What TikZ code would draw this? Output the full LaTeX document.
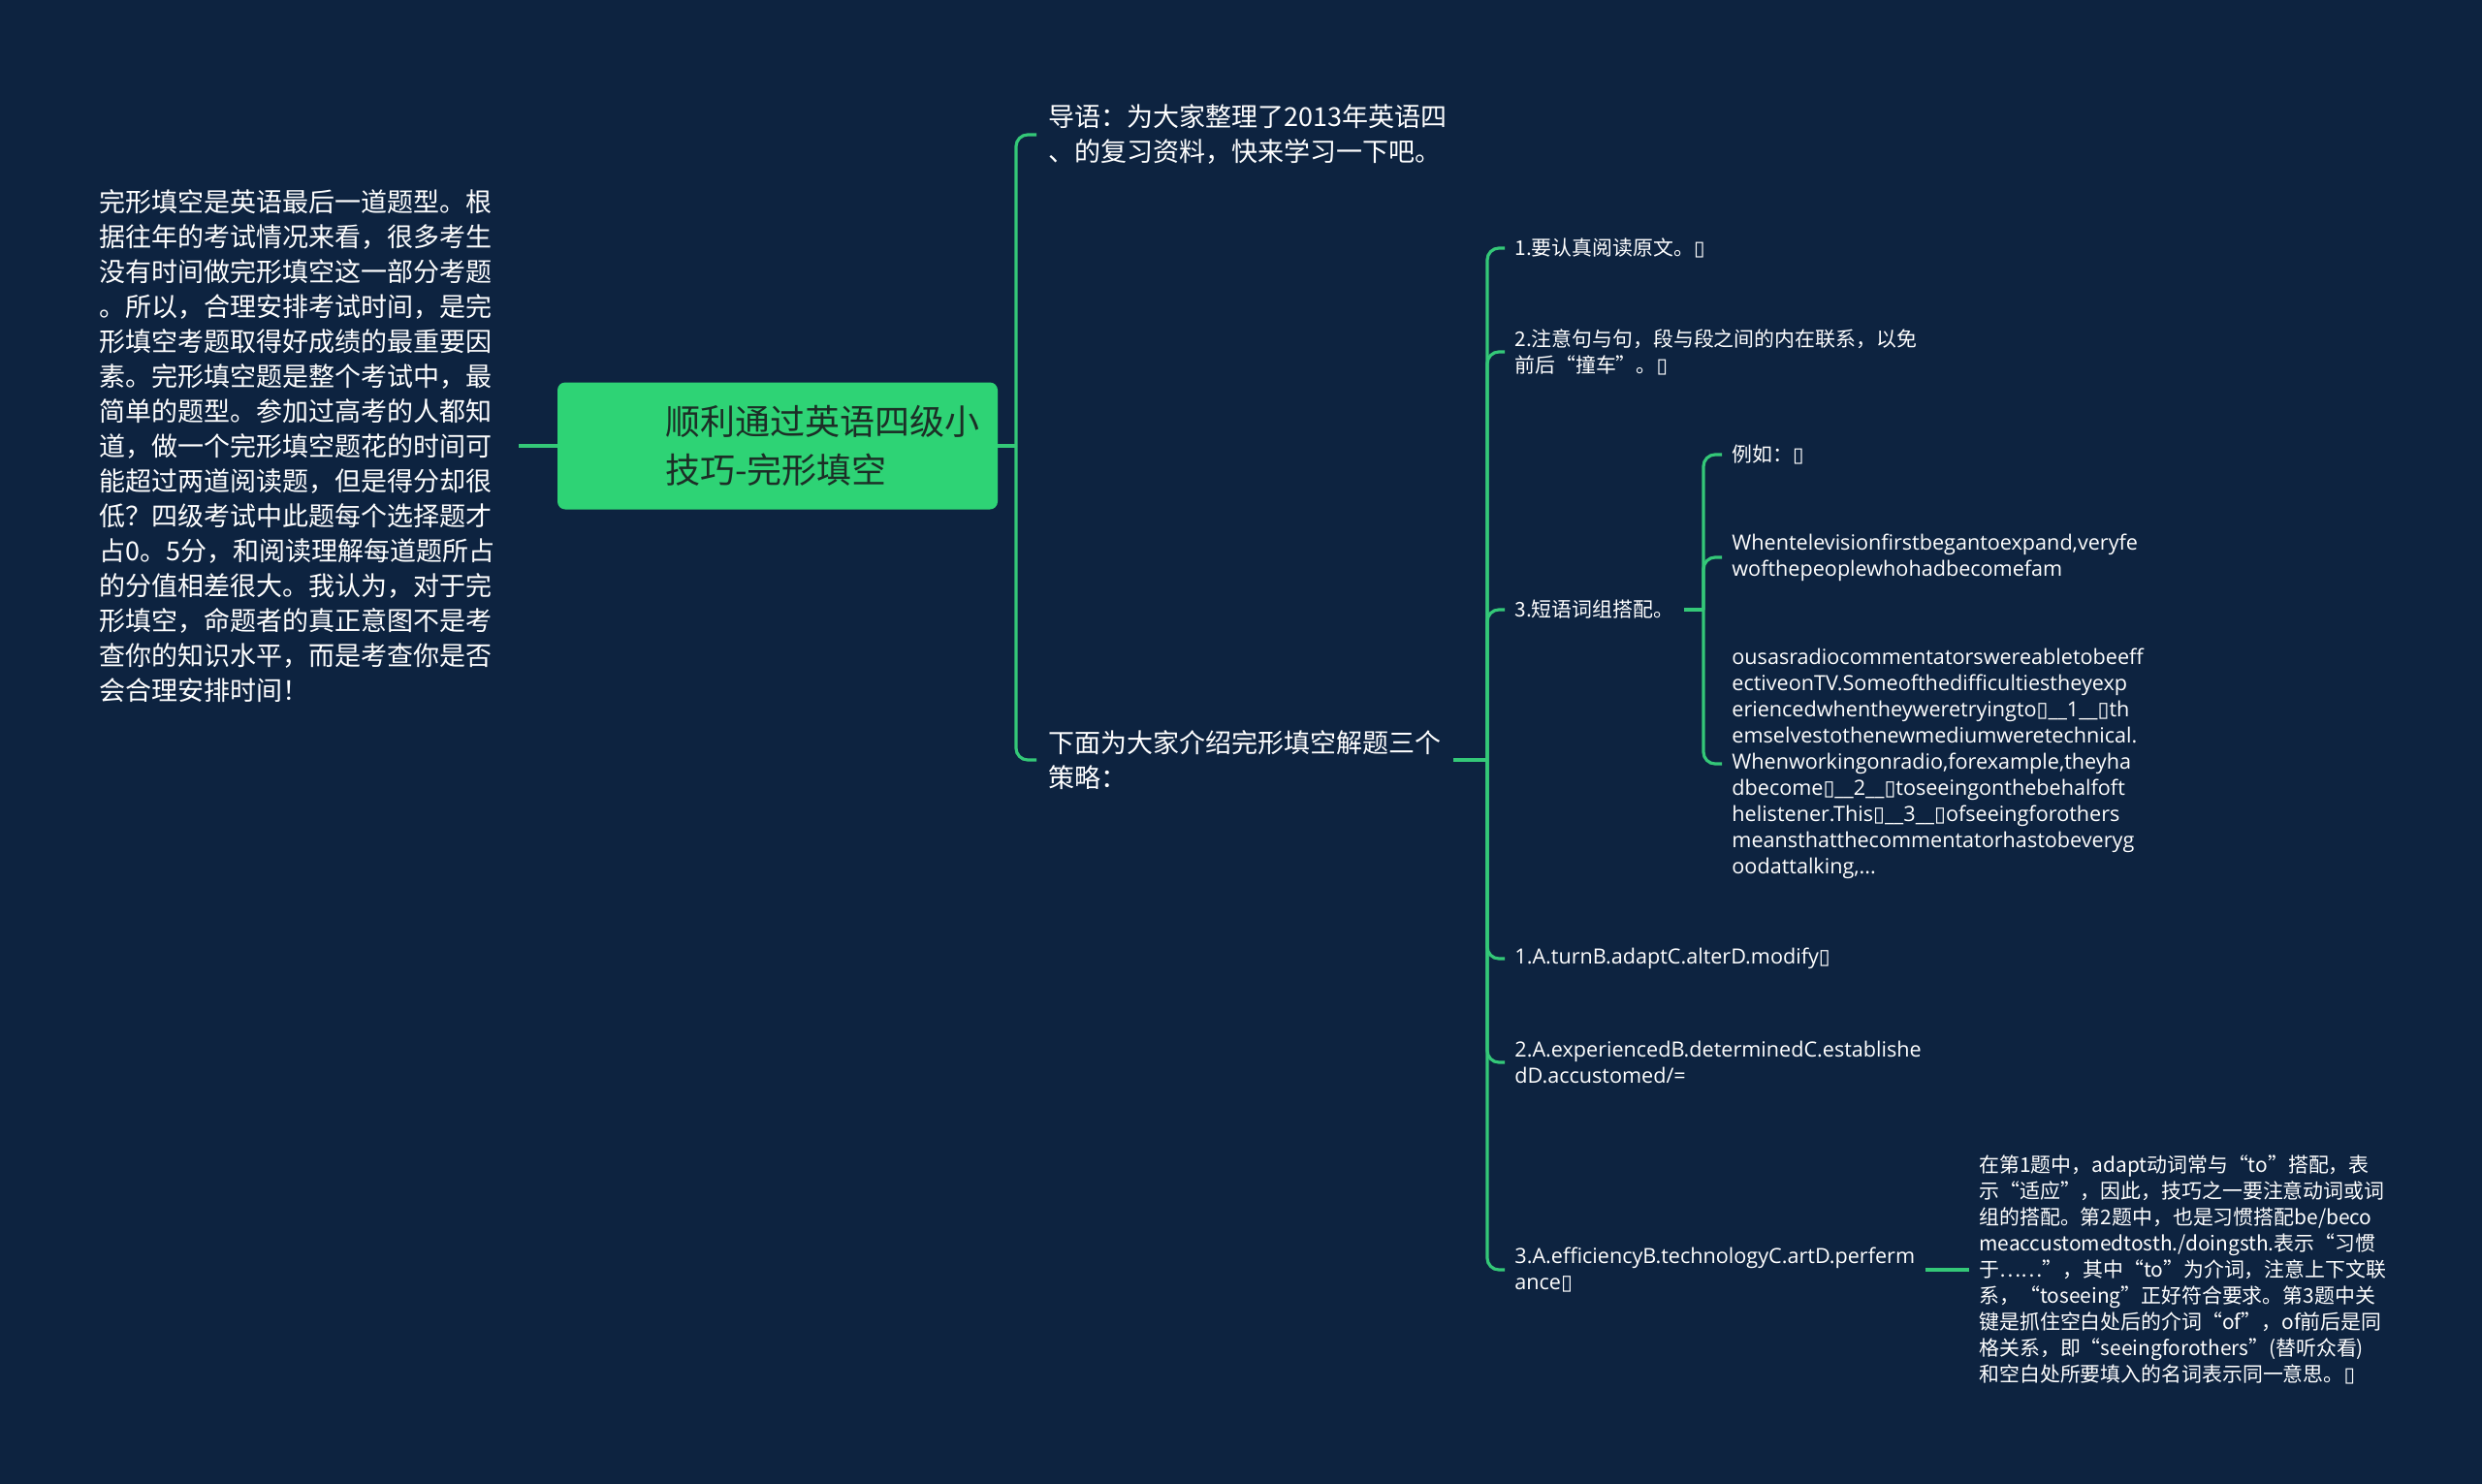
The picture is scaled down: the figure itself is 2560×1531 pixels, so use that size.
\documentclass[tikz,border=0pt]{standalone}
\usepackage{fontspec}
\setmainfont{Noto Sans CJK SC}
\newfontfamily\latinfont{Open Sans}
\newfontfamily\symfont{DejaVu Sans}
\usepackage{tikz}
\usetikzlibrary{positioning,calc}
\definecolor{MAP-NAVY}{RGB}{13,35,64}
\definecolor{MAP-GREEN}{RGB}{46,211,117}
\definecolor{MAP-LINE}{RGB}{52,200,120}
\definecolor{MAP-INK}{RGB}{28,46,38}
\newcommand{\tofu}{{\symfont ▯}}

\begin{document}
\begin{tikzpicture}[x=0.5pt, y=-0.5pt,
  link/.style={MAP-LINE, line width=1.6pt, rounded corners=6pt},
  rootbox/.style={fill=MAP-GREEN, rounded corners=4pt, text=MAP-INK,
    font=\fontsize{18pt}{25pt}\selectfont, text width=227pt,
    minimum height=65.5pt, inner xsep=0pt, align=left},
  bigtext/.style={text=white, font=\fontsize{13.5pt}{18pt}\selectfont, align=left, inner xsep=6pt},
  smalltext/.style={text=white, font=\fontsize{10.45pt}{13.5pt}\selectfont, align=left, inner xsep=5pt},
  engtext/.style={smalltext, font=\latinfont\fontsize{10.8pt}{13.5pt}\selectfont}]
  % Background
  \fill[MAP-NAVY] (0,0) rectangle (2560,1531);
  \useasboundingbox (0,0) rectangle (2560,1531);

  % Root topic
  \node[rootbox] (root) at (802,460)
    {\hspace*{55.5pt}顺利通过英语四级小\\\hspace*{55.5pt}技巧-完形填空};

  % Left note
  \node[bigtext, anchor=east, inner xsep=12pt] (intro) at (535,460) {%
    完形填空是英语最后一道题型。根\\
    据往年的考试情况来看，很多考生\\
    没有时间做完形填空这一部分考题\\
    。所以，合理安排考试时间，是完\\
    形填空考题取得好成绩的最重要因\\
    素。完形填空题是整个考试中，最\\
    简单的题型。参加过高考的人都知\\
    道，做一个完形填空题花的时间可\\
    能超过两道阅读题，但是得分却很\\
    低？四级考试中此题每个选择题才\\
    占0。5分，和阅读理解每道题所占\\
    的分值相差很大。我认为，对于完\\
    形填空，命题者的真正意图不是考\\
    查你的知识水平，而是考查你是否\\
    会合理安排时间！};
  \draw[link] (intro.east) -- (root.west);

  % First level
  \node[bigtext, anchor=west] (lead) at (1069,139)
    {导语：为大家整理了2013年英语四\\、的复习资料，快来学习一下吧。};
  \node[bigtext, anchor=west] (strat) at (1069,784)
    {下面为大家介绍完形填空解题三个\\策略：};
  \coordinate (rootfork) at (1048,460);
  \draw[link] (root.east) -- (rootfork);
  \draw[link] (rootfork) |- (lead.west);
  \draw[link] (rootfork) |- (strat.west);

  % Strategies and answers
  \node[smalltext, anchor=west] (tipread) at (1552,256) {1.要认真阅读原文。\tofu};
  \node[smalltext, anchor=west] (tipcontext) at (1552,363)
    {2.注意句与句，段与段之间的内在联系，以免\\前后“撞车”。\tofu};
  \node[smalltext, anchor=west] (tipphrase) at (1552,629) {3.短语词组搭配。};
  \node[engtext, anchor=west] (optA) at (1552,989) {1.A.turnB.adaptC.alterD.modify\tofu};
  \node[engtext, anchor=west] (optB) at (1552,1096)
    {2.A.experiencedB.determinedC.establishe\\dD.accustomed/=};
  \node[engtext, anchor=west] (optC) at (1552,1310)
    {3.A.efficiencyB.technologyC.artD.perferm\\ance\tofu};
  \coordinate (stratfork) at (1534,784);
  \draw[link] (strat.east) -- (stratfork);
  \foreach \kid in {tipread,tipcontext,tipphrase,optA,optB,optC}
    \draw[link] (stratfork) |- (\kid.west);

  % Example passage
  \node[smalltext, anchor=west] (eg) at (1776,469) {例如：\tofu};
  \node[engtext, anchor=west] (passA) at (1776,575)
    {Whentelevisionfirstbegantoexpand,veryfe\\wofthepeoplewhohadbecomefam};
  \node[engtext, anchor=west] (passB) at (1776,788) {%
    ousasradiocommentatorswereabletobeeff\\
    ectiveonTV.Someofthedifficultiestheyexp\\
    eriencedwhentheyweretryingto\tofu\_\_1\_\_\tofu th\\
    emselvestothenewmediumweretechnical.\\
    Whenworkingonradio,forexample,theyha\\
    dbecome\tofu\_\_2\_\_\tofu toseeingonthebehalfoft\\
    helistener.This\tofu\_\_3\_\_\tofu ofseeingforothers\\
    meansthatthecommentatorhastobeveryg\\
    oodattalking,...};
  \coordinate (phrasefork) at (1757,629);
  \draw[link] (tipphrase.east) -- (phrasefork);
  \foreach \kid in {eg,passA,passB}
    \draw[link] (phrasefork) |- (\kid.west);

  % Explanation
  \node[smalltext, anchor=west] (note) at (2031,1310) {%
    在第1题中，adapt动词常与“to”搭配，表\\
    示“适应”，因此，技巧之一要注意动词或词\\
    组的搭配。第2题中，也是习惯搭配be/beco\\
    meaccustomedtosth./doingsth.表示“习惯\\
    于……”，其中“to”为介词，注意上下文联\\
    系，“toseeing”正好符合要求。第3题中关\\
    键是抓住空白处后的介词“of”，of前后是同\\
    格关系，即“seeingforothers”(替听众看)\\
    和空白处所要填入的名词表示同一意思。\tofu};
  \draw[link] (optC.east) -- (note.west);
\end{tikzpicture}
\end{document}
